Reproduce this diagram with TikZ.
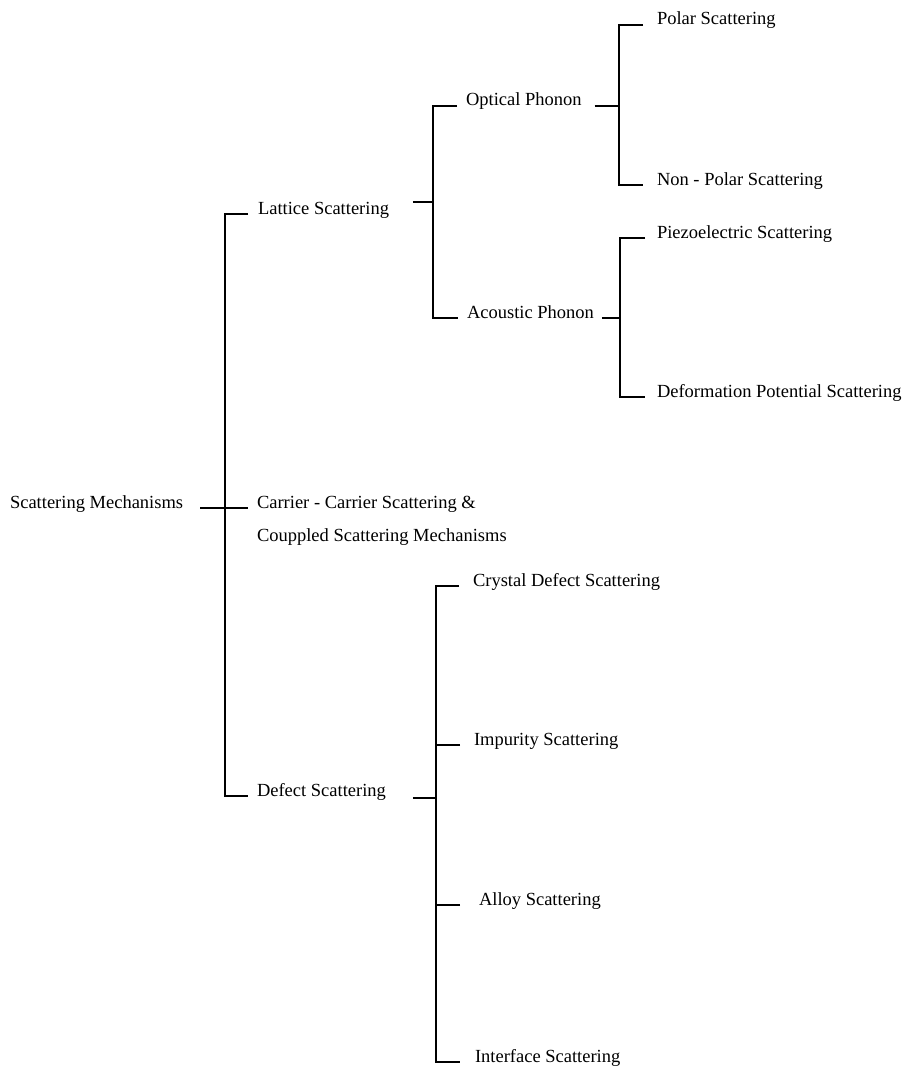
\documentclass[tikz,border=0pt]{standalone}
\usepackage{fontspec}
\setmainfont{Liberation Serif}
\begin{document}
\begin{tikzpicture}[x=1pt,y=-1pt,
  lbl/.style={anchor=base west,inner sep=0pt,outer sep=0pt,font=\fontsize{18.5pt}{22pt}\selectfont},
  every path/.style={line width=1.2pt}]
\useasboundingbox[fill=white] (0,0) rectangle (908,1070);
% nodes
\node[lbl] (sm)   at (10,508)  {Scattering Mechanisms};
\node[lbl] (lat)  at (258,214) {Lattice Scattering};
\node[lbl] (car)  at (257,508) {Carrier - Carrier Scattering \&};
\node[lbl] (car2) at (257,541) {Couppled Scattering Mechanisms};
\node[lbl] (def)  at (257,796) {Defect Scattering};
\node[lbl] (opt)  at (466,106) {Optical Phonon};
\node[lbl] (aco)  at (467,318) {Acoustic Phonon};
\node[lbl] (pol)  at (657,25)  {Polar Scattering};
\node[lbl] (npol) at (657,185) {Non - Polar Scattering};
\node[lbl] (pie)  at (657,238) {Piezoelectric Scattering};
\node[lbl] (dfp)  at (657,397) {Deformation Potential Scattering};
\node[lbl] (cry)  at (473,586) {Crystal Defect Scattering};
\node[lbl] (imp)  at (474,745) {Impurity Scattering};
\node[lbl] (all)  at (479,905) {Alloy Scattering};
\node[lbl] (int)  at (475,1062){Interface Scattering};
% junctions
\coordinate (M) at (225,508);
\coordinate (L) at (433,202);
\coordinate (O) at (619,106);
\coordinate (A) at (620,318);
\coordinate (D) at (436,798);
% connectors
\draw ([xshift=17pt]sm.base east) -- ([xshift=-9pt]car.base west);
\draw ([xshift=-10pt]lat.base west) -- (M |- lat.base) -- (M |- def.base) -- ([xshift=-9pt]def.base west);
\draw ([shift={(24pt,12pt)}]lat.base east) -- (L);
\draw ([xshift=-9pt]opt.base west) -- (L |- opt.base) -- (L |- aco.base) -- ([xshift=-9pt]aco.base west);
\draw ([xshift=13pt]opt.base east) -- (O);
\draw ([xshift=-14pt]pol.base west) -- (O |- pol.base) -- (O |- npol.base) -- ([xshift=-14pt]npol.base west);
\draw ([xshift=8pt]aco.base east) -- (A);
\draw ([xshift=-12pt]pie.base west) -- (A |- pie.base) -- (A |- dfp.base) -- ([xshift=-12pt]dfp.base west);
\draw ([shift={(27pt,-2pt)}]def.base east) -- (D);
\draw ([xshift=-14pt]cry.base west) -- (D |- cry.base) -- (D |- int.base) -- ([xshift=-15pt]int.base west);
\draw ([xshift=-14pt]imp.base west) -- (D |- imp.base);
\draw ([xshift=-19pt]all.base west) -- (D |- all.base);
\end{tikzpicture}
\end{document}
